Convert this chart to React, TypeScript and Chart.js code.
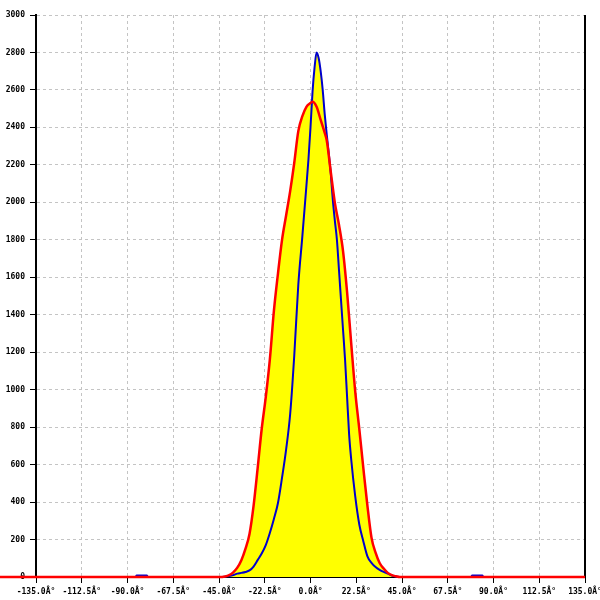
import React, { useEffect, useRef } from "react";
import { Chart, registerables } from "chart.js";

Chart.register(...registerables);

const redAngles = [-170, -135, -90, -45, -42, -40, -38, -36, -34, -32, -30, -28, -26, -24, -22, -20, -18, -16, -14, -12, -10, -8, -6, -4, -2, 0, 1, 3, 5, 7, 8, 10, 12, 14, 16, 18, 20, 22, 24, 26, 28, 30, 32, 34, 36, 38, 40, 42, 44, 90, 135, 170];
const redValues = [0, 0, 0, 0, 3, 10, 25, 50, 90, 150, 230, 380, 580, 790, 960, 1160, 1420, 1620, 1800, 1930, 2060, 2210, 2380, 2460, 2510, 2530, 2537, 2510, 2440, 2370, 2330, 2160, 1996, 1880, 1740, 1520, 1250, 990, 790, 580, 380, 210, 130, 75, 45, 22, 10, 4, 0, 0, 0, 0];

const blueAngles = [-170, -135, -86, -85.5, -80.5, -80, -45, -42, -40, -38, -36, -34, -32, -30, -28, -26, -24, -22, -20, -18, -16, -14, -12, -10, -8, -6, -4, -2, -1, 0, 1, 2, 3, 4, 5, 6, 7, 8, 9, 10, 11, 12, 13, 14, 15, 16, 17, 18, 19, 20, 22, 24, 26, 28, 30, 32, 34, 36, 38, 40, 42, 45, 79, 79.5, 84.5, 85, 135, 170];
const blueValues = [0, 0, 0, 8, 8, 0, 0, 2, 5, 10, 18, 22, 27, 35, 56, 90, 125, 170, 235, 310, 395, 530, 680, 870, 1180, 1560, 1820, 2090, 2230, 2400, 2590, 2720, 2800, 2770, 2700, 2600, 2470, 2360, 2260, 2150, 2010, 1900, 1799, 1640, 1479, 1320, 1160, 960, 760, 630, 430, 280, 190, 110, 75, 53, 38, 27, 18, 8, 3, 0, 0, 8, 8, 0, 0, 0];

const xMin = -135;
const xMax = 135;
const xStep = 22.5;
const yMin = 0;
const yMax = 3000;
const yStep = 200;

const tickFont = { family: "'DejaVu Sans Mono', monospace", size: 8, weight: "bold" as const };

export default function App() {
  const ref = useRef<HTMLCanvasElement | null>(null);

  useEffect(() => {
    document.body.style.margin = "0";
    const canvas = ref.current;
    if (!canvas) return;

    const rightBorder = {
      id: "rightBorder",
      beforeDatasetsDraw(chart: any) {
        const { ctx, chartArea } = chart;
        ctx.save();
        ctx.strokeStyle = "#000";
        ctx.lineWidth = 2;
        ctx.beginPath();
        ctx.moveTo(chartArea.right, chartArea.top);
        ctx.lineTo(chartArea.right, chartArea.bottom);
        ctx.stroke();
        ctx.restore();
      },
    };

    const chart = new Chart(canvas, {
      type: "line",
      data: {
        datasets: [
          {
            label: "red",
            data: redAngles.map((a, i) => ({ x: a, y: redValues[i] })),
            borderColor: "#ff0000",
            borderWidth: 2.5,
            backgroundColor: "#ffff00",
            fill: "origin",
            pointRadius: 0,
            cubicInterpolationMode: "monotone",
            clip: false as any,
          },
          {
            label: "blue",
            data: blueAngles.map((a, i) => ({ x: a, y: blueValues[i] })),
            borderColor: "#0000cc",
            borderWidth: 2,
            backgroundColor: "#ffff00",
            fill: "origin",
            pointRadius: 0,
            cubicInterpolationMode: "monotone",
            clip: false as any,
          },
        ],
      },
      options: {
        animation: false,
        responsive: false,
        maintainAspectRatio: false,
        layout: { padding: { top: 15, right: 15, left: 0, bottom: 0 } },
        plugins: {
          legend: { display: false },
          tooltip: { enabled: false },
          filler: { drawTime: "beforeDatasetsDraw" },
        },
        scales: {
          x: {
            type: "linear",
            min: xMin,
            max: xMax,
            afterFit: (s: any) => {
              s.height = 23;
              s.paddingLeft = 0;
              s.paddingRight = 0;
            },
            afterBuildTicks: (s: any) => {
              const t = [];
              for (let v = xMin; v <= xMax + 1e-9; v += xStep) t.push({ value: v });
              s.ticks = t;
            },
            ticks: {
              autoSkip: false,
              maxRotation: 0,
              minRotation: 0,
              padding: 4,
              color: "#000",
              font: tickFont,
              callback: (v: any) => Number(v).toFixed(1) + "Â°",
            },
            grid: {
              color: "#c4c4c4",
              lineWidth: 1,
              tickLength: 6,
              tickColor: "#000",
              tickWidth: 1,
              tickBorderDash: [],
            } as any,
            border: { display: true, color: "#000", width: 2, dash: [3, 3] },
          },
          y: {
            type: "linear",
            min: yMin,
            max: yMax,
            afterFit: (s: any) => {
              s.width = 36;
            },
            ticks: {
              stepSize: yStep,
              autoSkip: false,
              padding: 5,
              color: "#000",
              font: tickFont,
              callback: (v: any) => String(v),
            },
            grid: {
              color: "#c4c4c4",
              lineWidth: 1,
              tickLength: 6,
              tickColor: "#000",
              tickWidth: 1,
              tickBorderDash: [],
            } as any,
            border: { display: true, color: "#000", width: 2, dash: [3, 3] },
          },
        },
      },
      plugins: [rightBorder],
    });

    return () => chart.destroy();
  }, []);

  return (
    <div style={{ width: 600, height: 600, background: "#fff" }}>
      <canvas ref={ref} width={600} height={600} style={{ display: "block" }} />
    </div>
  );
}
